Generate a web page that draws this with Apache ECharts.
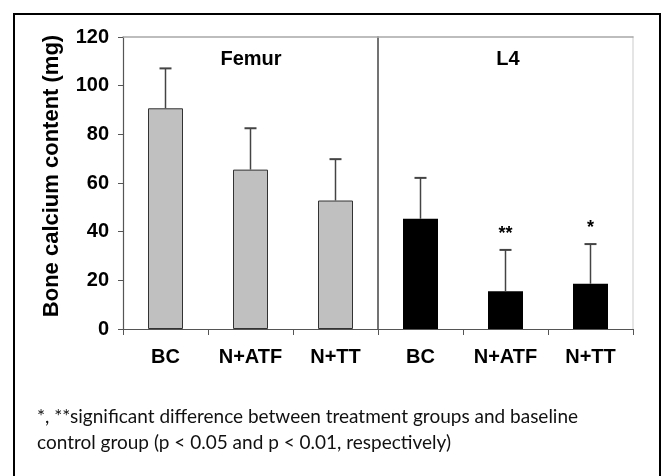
<!DOCTYPE html>
<html>
<head>
<meta charset="utf-8">
<script src="https://cdn.jsdelivr.net/npm/echarts@6/dist/echarts.min.js"></script>
<style>
html,body{margin:0;padding:0;background:#fff;}
#chart{width:662px;height:476px;}
</style>
</head>
<body>
<div id="chart"></div>
<script>
// ---- data ----
const groupNames = ['Femur', 'L4'];
const categories = ['BC', 'N+ATF', 'N+TT'];
const femurMeans = [90.7, 65.5, 52.8];
const femurSD = [16.4, 17.0, 17.0];
const l4Means = [45.3, 15.5, 18.6];
const l4SD = [16.8, 17.0, 16.3];
const l4Sig = ['', '**', '*'];
const femurSig = ['', '', ''];
const yMin = 0, yMax = 120, yStep = 20;
const yTitle = 'Bone calcium content (mg)';
const footnoteLines = [
  '*, **significant difference between treatment groups and baseline',
  'control group (p < 0.05 and p < 0.01, respectively)'
];

const BOLD = "'Liberation Sans', Arial, sans-serif";

function errSeries(means, sds, sig, axisIdx) {
  return {
    type: 'custom',
    xAxisIndex: axisIdx, yAxisIndex: axisIdx === 0 ? 0 : 1,
    z: 5,
    data: means.map((m, i) => [i, m, m + sds[i]]),
    renderItem: function (params, api) {
      const i = api.value(0);
      const p0 = api.coord([i, api.value(1)]);
      const p1 = api.coord([i, api.value(2)]);
      const cap = 6;
      const children = [
        {type: 'line', shape: {x1: p0[0], y1: p0[1], x2: p1[0], y2: p1[1]}, style: {stroke: '#444', lineWidth: 1.5}},
        {type: 'line', shape: {x1: p1[0] - cap, y1: p1[1], x2: p1[0] + cap, y2: p1[1]}, style: {stroke: '#444', lineWidth: 2}}
      ];
      const s = sig[params.dataIndex];
      if (s) {
        children.push({type: 'text', style: {text: s, x: p1[0], y: p1[1] - 16, align: 'center', verticalAlign: 'middle',
          font: "bold 18px 'Liberation Sans', Arial, sans-serif", fill: '#000'}});
      }
      return {type: 'group', children: children};
    }
  };
}

function catAxis(gridIndex, position, showAll) {
  return {
    type: 'category', gridIndex: gridIndex, position: position, data: categories,
    axisLine: {show: true, onZero: false, lineStyle: {color: showAll ? '#555' : '#a8a8a8', width: showAll ? 1.2 : 1.5}},
    axisTick: {show: showAll, length: 6, lineStyle: {color: '#555'}},
    axisLabel: {show: showAll, interval: 0, margin: 18, color: '#000', fontFamily: BOLD, fontWeight: 'bold', fontSize: 20},
    splitLine: {show: false}
  };
}

const chart = echarts.init(document.getElementById('chart'), null, {renderer: 'canvas'});
chart.setOption({
  animation: false,
  backgroundColor: '#fff',
  grid: [
    {left: 123, right: 284, top: 37, bottom: 147},
    {left: 378, right: 29, top: 37, bottom: 147}
  ],
  xAxis: [
    catAxis(0, 'bottom', true),
    catAxis(0, 'top', false),
    catAxis(1, 'bottom', true),
    catAxis(1, 'top', false)
  ],
  yAxis: [
    {type: 'value', gridIndex: 0, min: yMin, max: yMax, interval: yStep, position: 'left',
     axisLine: {show: true, onZero: false, lineStyle: {color: '#555', width: 1.2}},
     axisTick: {show: true, length: 5, lineStyle: {color: '#555'}},
     axisLabel: {margin: 14, color: '#000', fontFamily: BOLD, fontWeight: 'bold', fontSize: 20},
     splitLine: {show: false},
     name: yTitle, nameLocation: 'middle', nameRotate: 90, nameGap: 60,
     nameTextStyle: {color: '#000', fontFamily: BOLD, fontWeight: 'bold', fontSize: 22, padding: [0, 0, 0, 14]}},
    {type: 'value', gridIndex: 1, min: yMin, max: yMax, interval: yStep, position: 'left',
     axisLine: {show: true, onZero: false, lineStyle: {color: '#444', width: 1.5}},
     axisTick: {show: false}, axisLabel: {show: false}, splitLine: {show: false}},
    {type: 'value', gridIndex: 1, min: yMin, max: yMax, interval: yStep, position: 'right',
     axisLine: {show: true, onZero: false, lineStyle: {color: '#dcdcdc', width: 1.5}},
     axisTick: {show: false}, axisLabel: {show: false}, splitLine: {show: false}}
  ],
  series: [
    {type: 'bar', xAxisIndex: 0, yAxisIndex: 0, data: femurMeans, barWidth: 35,
     itemStyle: {color: '#c0c0c0', borderColor: '#333', borderWidth: 1}},
    {type: 'bar', xAxisIndex: 2, yAxisIndex: 1, data: l4Means, barWidth: 35,
     itemStyle: {color: '#000'}},
    errSeries(femurMeans, femurSD, femurSig, 0),
    errSeries(l4Means, l4SD, l4Sig, 2)
  ],
  graphic: [
    {type: 'rect', shape: {x: 14, y: 14, width: 646, height: 480}, style: {fill: 'none', stroke: '#000', lineWidth: 2}, z: 100},
    {type: 'text', x: 251, y: 59, style: {text: groupNames[0], align: 'center', verticalAlign: 'middle',
      font: "bold 20px 'Liberation Sans', Arial, sans-serif", fill: '#000'}},
    {type: 'text', x: 508, y: 59, style: {text: groupNames[1], align: 'center', verticalAlign: 'middle',
      font: "bold 20px 'Liberation Sans', Arial, sans-serif", fill: '#000'}},
    {type: 'text', x: 37, y: 417, style: {text: footnoteLines[0], align: 'left', verticalAlign: 'middle',
      font: "19px Lato, 'Open Sans', sans-serif", fill: '#111'}},
    {type: 'text', x: 37, y: 443, style: {text: footnoteLines[1], align: 'left', verticalAlign: 'middle',
      font: "19px Lato, 'Open Sans', sans-serif", fill: '#111'}}
  ]
});
</script>
</body>
</html>
